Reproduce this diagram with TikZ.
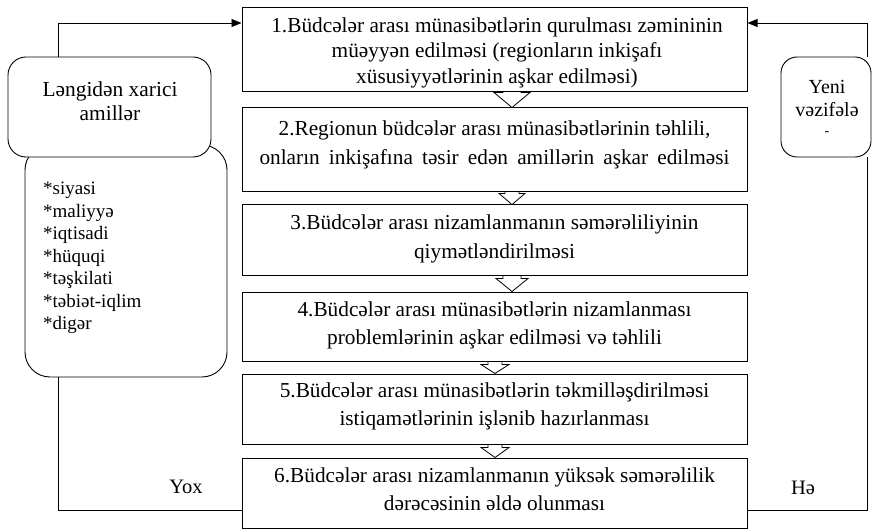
\documentclass[tikz,border=0pt]{standalone}
\usepackage{fontspec}
\setmainfont{Liberation Serif}
\usetikzlibrary{calc,arrows.meta}
\pgfdeclarelayer{background}
\pgfsetlayers{background,main}
\newcommand\hollowarr[6]{%
  \begin{pgfonlayer}{background}
  \draw[harrow] let \p1=(#1.south), \p2=(#2.north) in
    (\x1+#3-#5, \y1+8pt) -- (\x1+#3-#5, \y1-#6) -- (\x1+#3-#4, \y1-#6) --
    (\x1+#3, \y2) -- (\x1+#3+#4, \y1-#6) -- (\x1+#3+#5, \y1-#6) --
    (\x1+#3+#5, \y1+8pt) -- cycle;
  \end{pgfonlayer}}
\begin{document}
\begin{tikzpicture}[x=1pt,y=-1pt,
  stepbox/.style={draw, line width=1pt, fill=white, rectangle, minimum width=505pt,
    inner sep=0pt},
  steptext/.style={inner sep=0pt, align=center, font=\fontsize{21.3}{28.5}\selectfont},
  rbox/.style={draw, line width=0.9pt, fill=white, inner sep=0pt, align=center},
  link/.style={line width=0.8pt},
  arr/.style={link, -{Triangle[length=10pt,width=8pt]}},
  harrow/.style={line width=0.8pt, fill=white, line join=miter},
  lbl/.style={font=\fontsize{20.5}{22}\selectfont, inner sep=0pt}]
\useasboundingbox (0,0) rectangle (872,529);

% main steps
\node[stepbox, minimum height=84pt] (b1) at (494.5,50) {};
\node[stepbox, minimum height=84pt] (b2) at (494.5,150) {};
\node[stepbox, minimum height=70pt] (b3) at (494.5,240) {};
\node[stepbox, minimum height=69pt] (b4) at (494.5,326.5) {};
\node[stepbox, minimum height=70pt] (b5) at (494.5,409) {};
\node[stepbox, minimum height=70pt] (b6) at (494.5,493) {};

\node[steptext, font=\fontsize{21.3}{25.5}\selectfont] (b1t) at (497,52.5)
  {1.Büdcələr arası münasibətlərin qurulması zəmininin\\
   müəyyən edilməsi (regionların inkişafı\\
   xüsusiyyətlərinin aşkar edilməsi)};
\node[steptext] (b2t) at (494.5,145)
  {2.Regionun büdcələr arası münasibətlərinin təhlili,\\
   \makebox[470pt][s]{onların inkişafına təsir edən amillərin aşkar edilməsi}};
\node[steptext] (b3t) at (494.5,239)
  {3.Büdcələr arası nizamlanmanın səmərəliliyinin\\
   qiymətləndirilməsi};
\node[steptext] (b4t) at (494.5,325.5)
  {4.Büdcələr arası münasibətlərin nizamlanması\\
   problemlərinin aşkar edilməsi və təhlili};
\node[steptext] (b5t) at (494.5,406.5)
  {5.Büdcələr arası münasibətlərin təkmilləşdirilməsi\\
   istiqamətlərinin işlənib hazırlanması};
\node[steptext] (b6t) at (494.5,489)
  {6.Büdcələr arası nizamlanmanın yüksək səmərəlilik\\
   dərəcəsinin əldə olunması};

% hollow arrows between steps
\hollowarr{b1}{b2}{17.5pt}{18pt}{9pt}{0pt}
\hollowarr{b2}{b3}{17.5pt}{13pt}{7pt}{1pt}
\hollowarr{b3}{b4}{17.5pt}{16pt}{9pt}{3pt}
\hollowarr{b4}{b5}{0.5pt}{14pt}{7pt}{3pt}
\hollowarr{b5}{b6}{0.5pt}{14pt}{7pt}{3pt}

% left side
\node[rbox, rounded corners=25pt, minimum width=202pt, minimum height=232pt] (L2) at (126,261) {};
\node[rbox, rounded corners=18pt, minimum width=203pt, minimum height=100pt] (L1) at (109.5,107) {};
\node[inner sep=0pt, align=center, font=\fontsize{21.4}{23.5}\selectfont] (L1t) at (110,101)
  {Ləngidən xarici\\amillər};
\node[anchor=north west, inner sep=0pt, align=left,
  font=\fontsize{19}{22.5}\selectfont] (L2t) at (43,182)
  {*siyasi\\*maliyyə\\*iqtisadi\\*hüquqi\\*təşkilati\\*təbiət-iqlim\\*digər};

% right side
\node[rbox, rounded corners=16pt, minimum width=90pt, minimum height=100pt] (R) at (826,107) {};
\node[inner sep=0pt, align=center, font=\fontsize{20}{23}\selectfont] (Rt) at (827,98.5)
  {Yeni\\vəzifələ};
\node[inner sep=0pt, font=\fontsize{14}{14}\selectfont] (Rd) at (827,134) {-};

% connectors
\draw[arr] ([xshift=-51.5pt]L1.north) |- ([yshift=27pt]b1.west);
\draw[link] ([xshift=-68pt]L2.south) |- ([yshift=-17pt]b6.west);
\draw[arr] ([xshift=41pt]R.north) |- ([yshift=27pt]b1.east);
\draw[link] ([xshift=41pt]R.south) |- ([yshift=-17pt]b6.east);

% labels
\node[lbl] (yox) at (186,487) {Yox};
\node[lbl] (he) at (803,488) {Hə};
\end{tikzpicture}
\end{document}
